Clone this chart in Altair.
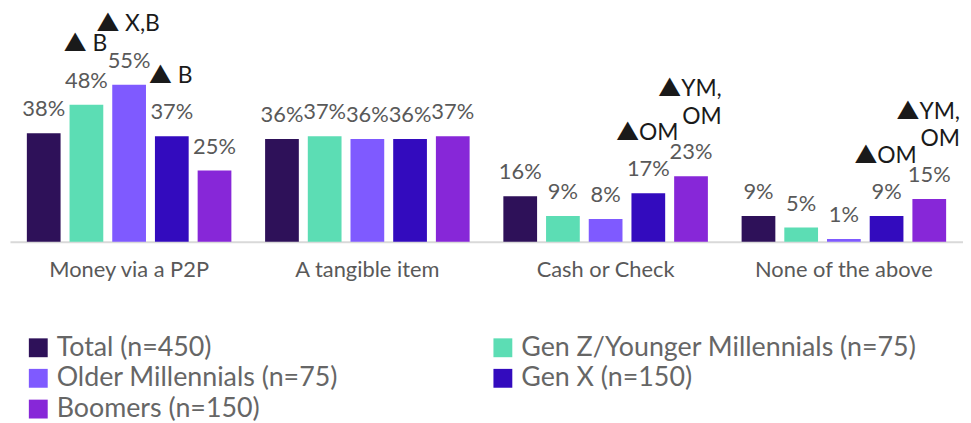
import altair as alt
import pandas as pd

categories = ["Money via a P2P", "A tangible item", "Cash or Check", "None of the above"]
groups = [
    "Total (n=450)",
    "Gen Z/Younger Millennials (n=75)",
    "Older Millennials (n=75)",
    "Gen X (n=150)",
    "Boomers (n=150)",
]
colors = ["#2E1159", "#5CDDB4", "#7F5AFF", "#330BBE", "#8727D8"]

total = [38, 36, 16, 9]
genz = [48, 37, 9, 5]
older_mill = [55, 36, 8, 1]
genx = [37, 36, 17, 9]
boomers = [25, 37, 23, 15]

# significance notes: lines from top to bottom
annotations = [
    ("Money via a P2P", groups[1], ["▲ B"]),
    ("Money via a P2P", groups[2], ["▲ X,B"]),
    ("Money via a P2P", groups[3], ["▲ B"]),
    ("Cash or Check", groups[3], ["▲OM"]),
    ("Cash or Check", groups[4], ["▲YM,", "OM"]),
    ("None of the above", groups[3], ["▲OM"]),
    ("None of the above", groups[4], ["▲YM,", "OM"]),
]

series = [total, genz, older_mill, genx, boomers]
rows = []
for g, vals in zip(groups, series):
    for c, v in zip(categories, vals):
        rows.append({"category": c, "group": g, "value": v, "label": f"{v}%"})
df = pd.DataFrame(rows)

note_rows = []
for c, g, lines in annotations:
    v = series[groups.index(g)][categories.index(c)]
    n = len(lines)
    for i, t in enumerate(lines):
        note_rows.append({"category": c, "group": g, "value": v, "text": t,
                          "line": n - 1 - i, "nlines": n})
notes_df = pd.DataFrame(note_rows)

FONT = "Lato"
NOTE_FONT = "Lato, 'Noto Sans CJK JP', sans-serif"

x = alt.X("category:N", sort=categories, title=None,
          scale=alt.Scale(paddingInner=0, paddingOuter=0),
          axis=alt.Axis(labelAngle=0, labelFont=FONT, labelFontSize=22,
                        labelColor="#595959", labelPadding=18, ticks=False,
                        domainColor="#D9D9D9", domainWidth=2, grid=False))
xo = alt.XOffset("group:N", sort=groups,
                 scale=alt.Scale(paddingInner=0.21, paddingOuter=0.395))
y = alt.Y("value:Q", scale=alt.Scale(domain=[0, 81.4]), axis=None)

base = alt.Chart(df).encode(x=x, xOffset=xo, y=y)

bars = base.mark_bar().encode(
    color=alt.Color("group:N", sort=groups,
                    scale=alt.Scale(domain=groups, range=colors),
                    legend=alt.Legend(
                        title=None, orient="none", legendX=15, legendY=327,
                        direction="horizontal", columns=2,
                        columnPadding=152, rowPadding=3,
                        symbolType="square", symbolSize=361,
                        symbolStrokeWidth=0, labelFont=FONT,
                        labelFontSize=27, labelColor="#666666",
                        labelOffset=5, padding=0, labelLimit=600,
                    ))
)

labels = base.mark_text(font=FONT, fontSize=22, color="#595959",
                        baseline="middle", dy=-24).encode(text="label:N")

nbase = alt.Chart(notes_df).encode(x=x, xOffset=xo, y=y, text="text:N")
single = nbase.transform_filter(alt.datum.nlines == 1).mark_text(
    font=NOTE_FONT, fontSize=23, color="#1A1A1A", align="center",
    baseline="middle", dx=-1, dy=-61)
double_top = nbase.transform_filter(
    (alt.datum.nlines == 2) & (alt.datum.line == 1)).mark_text(
    font=NOTE_FONT, fontSize=23, color="#1A1A1A", align="right",
    baseline="middle", dx=31, dy=-88)
double_bottom = nbase.transform_filter(
    (alt.datum.nlines == 2) & (alt.datum.line == 0)).mark_text(
    font=NOTE_FONT, fontSize=23, color="#1A1A1A", align="right",
    baseline="middle", dx=31, dy=-60)

chart = alt.layer(bars, labels, single, double_top, double_bottom).properties(
    width=960, height=234,
    autosize=alt.AutoSizeParams(type="none"),
    padding={"left": 2, "top": 0, "right": 0, "bottom": 181},
).configure_view(stroke=None)

chart.save("out.html", embed_options={"renderer": "svg", "actions": False})
